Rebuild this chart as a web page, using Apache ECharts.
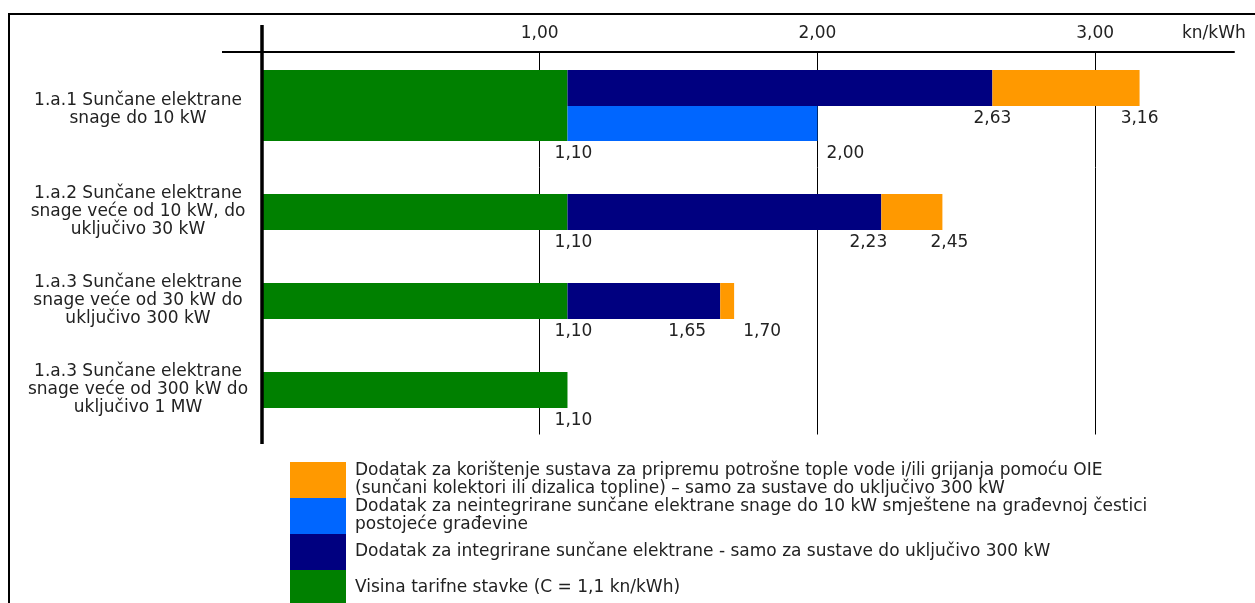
<!DOCTYPE html>
<html>
<head>
<meta charset="utf-8">
<script src="https://cdn.jsdelivr.net/npm/echarts@6/dist/echarts.min.js"></script>
<style>
  html, body { margin: 0; padding: 0; background: #fff; }
  #chart { width: 1255px; height: 603px; }
</style>
</head>
<body>
<div id="chart"></div>
<script>
// categories (left labels)
const categories = [
  '1.a.1 Sunčane elektrane\nsnage do 10 kW',
  '1.a.2 Sunčane elektrane\nsnage veće od 10 kW, do\nuključivo 30 kW',
  '1.a.3 Sunčane elektrane\nsnage veće od 30 kW do\nuključivo 300 kW',
  '1.a.3 Sunčane elektrane\nsnage veće od 300 kW do\nuključivo 1 MW'
];
// cumulative values in kn/kWh, as written on the chart
const tariff = [1.10, 1.10, 1.10, 1.10];
const integrated = [2.63, 2.23, 1.65, null];
const hotWater = [3.16, 2.45, 1.70, null];
const nonIntegrated = [2.00, null, null, null];

const unit = 'kn/kWh';
const nameHotWater = 'Dodatak za korištenje sustava za pripremu potrošne tople vode i/ili grijanja pomoću OIE\n(sunčani kolektori ili dizalica topline) – samo za sustave do uključivo 300 kW';
const nameNonIntegrated = 'Dodatak za neintegrirane sunčane elektrane snage do 10 kW smještene na građevnoj čestici\npostojeće građevine';
const nameIntegrated = 'Dodatak za integrirane sunčane elektrane - samo za sustave do uključivo 300 kW';
const nameTariff = 'Visina tarifne stavke (C = 1,1 kn/kWh)';

const GREEN = '#008000', NAVY = '#000080', BLUE = '#0066FF', ORANGE = '#FF9900';
const FONT = 'DejaVu Sans';
const FS = 17;

// horizontal nudges of the value labels (px), like in the original
const nudgeTariff = [6, 6, 6, 6];
const nudgeIntegrated = [0, -13, -33];
const nudgeHotWater = [0, 7, 28];
const nudgeNonIntegrated = [28];

function fmt(v) {
  return v.toFixed(2).replace('.', ',');
}

function piece(total, prev, dx) {
  if (total == null) return null;
  return { value: +(total - (prev || 0)).toFixed(2), total: total, label: { offset: [dx, 13] } };
}

const valueLabel = {
  show: true,
  position: ['100%', '100%'],
  align: 'center',
  verticalAlign: 'middle',
  fontFamily: FONT,
  fontSize: FS,
  color: '#222',
  formatter: function (p) { return fmt(p.data.total); }
};

function barSeries(name, color, gridIdx, stack, width, data, withLabel) {
  return {
    type: 'bar',
    name: name,
    xAxisIndex: gridIdx,
    yAxisIndex: gridIdx,
    stack: stack,
    barWidth: width,
    barGap: '0%',
    itemStyle: { color: color },
    label: withLabel ? valueLabel : { show: false },
    data: data
  };
}

// first category: two sub-bars (top: integrated + hot water, bottom: non-integrated)
const series = [
  barSeries(nameTariff, GREEN, 0, 'top', 36, [{ value: tariff[0] }], false),
  barSeries(nameTariff, GREEN, 0, 'bottom', 35, [piece(tariff[0], 0, nudgeTariff[0])], true),
  barSeries(nameIntegrated, NAVY, 0, 'top', 36, [piece(integrated[0], tariff[0], nudgeIntegrated[0])], true),
  barSeries(nameHotWater, ORANGE, 0, 'top', 36, [piece(hotWater[0], integrated[0], nudgeHotWater[0])], true),
  barSeries(nameNonIntegrated, BLUE, 0, 'bottom', 35, [piece(nonIntegrated[0], tariff[0], nudgeNonIntegrated[0])], true),
  // empty slot so the pair sits a little higher in its band
  { type: 'bar', xAxisIndex: 0, yAxisIndex: 0, stack: 'pad', barWidth: 8.5, barGap: '0%', silent: true, data: [null] }
];

// other categories
const g2Tariff = [], g2Integrated = [], g2HotWater = [];
for (let i = 1; i < categories.length; i++) {
  g2Tariff.push(piece(tariff[i], 0, nudgeTariff[i]));
  g2Integrated.push(piece(integrated[i], tariff[i], nudgeIntegrated[i]));
  g2HotWater.push(piece(hotWater[i], integrated[i], nudgeHotWater[i]));
}
series.push(barSeries(nameTariff, GREEN, 1, 'c', 36, g2Tariff, true));
series.push(barSeries(nameIntegrated, NAVY, 1, 'c', 36, g2Integrated, true));
series.push(barSeries(nameHotWater, ORANGE, 1, 'c', 36, g2HotWater, true));

const splitLine = {
  show: true,
  showMinLine: false,
  showMaxLine: false,
  lineStyle: { color: '#000', width: 1 }
};

const yLabel = {
  align: 'center',
  margin: 124,
  fontFamily: FONT,
  fontSize: FS,
  lineHeight: 18,
  color: '#222'
};

const option = {
  animation: false,
  backgroundColor: '#fff',
  grid: [
    { left: 262, right: 21, top: 52, height: 115.5 },
    { left: 262, right: 21, top: 167.5, height: 267 }
  ],
  xAxis: [
    {
      gridIndex: 0,
      type: 'value',
      position: 'top',
      min: 0,
      max: 3.5,
      interval: 1,
      axisLine: { show: true, lineStyle: { color: '#000', width: 2 } },
      axisTick: { show: false },
      axisLabel: {
        showMinLabel: false,
        showMaxLabel: false,
        margin: 10,
        fontFamily: FONT,
        fontSize: FS,
        color: '#222',
        formatter: fmt
      },
      splitLine: splitLine,
      name: unit,
      nameLocation: 'end',
      nameGap: -52,
      nameTextStyle: {
        fontFamily: FONT,
        fontSize: FS,
        color: '#222',
        align: 'left',
        verticalAlign: 'bottom',
        padding: [0, 0, 10, 0]
      }
    },
    {
      gridIndex: 1,
      type: 'value',
      min: 0,
      max: 3.5,
      interval: 1,
      axisLine: { show: false },
      axisTick: { show: false },
      axisLabel: { show: false },
      splitLine: splitLine
    }
  ],
  yAxis: [
    {
      gridIndex: 0,
      type: 'category',
      inverse: true,
      data: categories.slice(0, 1),
      axisLine: { show: false },
      axisTick: { show: false },
      axisLabel: Object.assign({}, yLabel, { padding: [0, 0, 8, 0] })
    },
    {
      gridIndex: 1,
      type: 'category',
      inverse: true,
      data: categories.slice(1),
      axisLine: { show: false },
      axisTick: { show: false },
      axisLabel: yLabel
    }
  ],
  legend: {
    orient: 'vertical',
    left: 290,
    top: 462,
    height: 160,
    padding: 0,
    itemWidth: 56,
    itemHeight: 36,
    itemGap: 0,
    icon: 'rect',
    selectedMode: false,
    data: [nameHotWater, nameNonIntegrated, nameIntegrated, nameTariff],
    textStyle: {
      fontFamily: FONT,
      fontSize: FS,
      lineHeight: 18,
      color: '#222',
      padding: [0, 0, 0, 4]
    }
  },
  graphic: [
    {
      type: 'polyline', z: 100,
      shape: { points: [[9, 603], [9, 14], [1255, 14]] },
      style: { stroke: '#000', lineWidth: 2, fill: null }
    },
    {
      type: 'line', z: 100,
      shape: { x1: 262, y1: 25, x2: 262, y2: 444 },
      style: { stroke: '#000', lineWidth: 3.5 }
    },
    {
      type: 'line', z: 100,
      shape: { x1: 222, y1: 52, x2: 262, y2: 52 },
      style: { stroke: '#000', lineWidth: 2 }
    }
  ],
  series: series
};

const chart = echarts.init(document.getElementById('chart'));
chart.setOption(option);
</script>
</body>
</html>
